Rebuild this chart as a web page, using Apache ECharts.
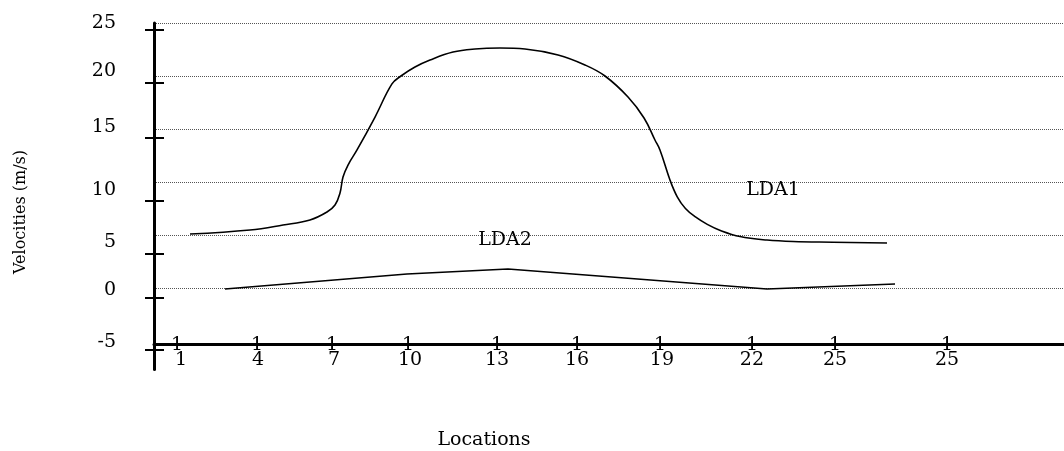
<!DOCTYPE html>
<html><head><meta charset="utf-8">
<script src="https://cdn.jsdelivr.net/npm/echarts@6/dist/echarts.min.js"></script>
<style>html,body{margin:0;padding:0;background:#fff}#c{width:1064px;height:451px}</style>
</head><body><div id="c"></div>
<script>
const FONT = 'DejaVu Serif';
// x positions are in axis units (0..100 across the plot width)
const xLabelPos = [2.97, 11.43, 19.78, 28.13, 37.69, 46.48, 55.82, 65.71, 74.84, 87.14];
const xLabelText = ['1', '4', '7', '10', '13', '16', '19', '22', '25', '25'];
const xMarkPos = [2.53, 11.32, 19.56, 27.91, 37.69, 46.48, 55.60, 65.71, 74.84, 87.14];
const yGridValues = [0, 5, 10, 15, 20, 25];
const yLabelPos = [25, 20.47, 15.19, 9.25, 4.34, -0.19, -5.09];
const yLabelText = ['25', '20', '15', '10', '5', '0', '-5'];
const yTickPos = [24.34, 19.34, 14.15, 8.21, 3.21, -0.94, -5.85];

const lda1X = [3.96, 10.55, 14.18, 17.14, 19.01, 19.89, 20.44, 20.77, 21.32, 22.31, 24.29, 26.15, 27.14, 28.68, 30.33, 32.86, 35.27, 38.02, 40.77, 44.40, 47.36, 49.56, 52.09, 53.85, 55.05, 55.60, 56.70, 57.50, 58.40, 59.50, 60.80, 62.30, 64.40, 67.36, 70.22, 74.62, 80.55];
const lda1Y = [5.09, 5.47, 5.94, 6.42, 7.17, 7.83, 8.96, 10.47, 11.60, 13.02, 16.13, 19.25, 20.0, 20.85, 21.51, 22.26, 22.55, 22.64, 22.55, 21.98, 21.04, 20.0, 18.02, 16.04, 13.96, 13.02, 10.19, 8.60, 7.50, 6.70, 6.00, 5.40, 4.85, 4.52, 4.38, 4.32, 4.25];
const lda2X = [7.80, 27.80, 38.90, 67.36, 81.43];
const lda2Y = [-0.09, 1.32, 1.79, -0.09, 0.38];
const seriesNames = ['LDA1', 'LDA2'];
const seriesLabelPos = [[68.02, 9.25], [38.57, 4.48]];

const zip = (xs, ys) => xs.map((x, i) => [x, ys[i]]);
const YMIN = -7.7, YMAX = 25;

const chart = echarts.init(document.getElementById('c'), null, {renderer: 'canvas'});
const txt = {fontFamily: FONT, fontSize: 19, color: '#000'};

const yBase = {type: 'value', min: YMIN, max: YMAX, position: 'left'};
const xBase = {type: 'value', min: 0, max: 100, position: 'bottom', offset: -25};

chart.setOption({
  animation: false,
  backgroundColor: '#fff',
  grid: {left: 154, right: 0, top: 23, bottom: 81.4, containLabel: false},
  xAxis: [
    Object.assign({}, xBase, {
      axisLine: {show: true, onZero: false, lineStyle: {color: '#000', width: 3}},
      axisTick: {show: false},
      splitLine: {show: false},
      axisLabel: Object.assign({show: true, customValues: xLabelPos, margin: 6,
        formatter: (v, i) => { const k = xLabelPos.indexOf(v); return xLabelText[k >= 0 ? k : i]; }}, txt)
    }),
    Object.assign({}, xBase, {
      axisLine: {show: false, onZero: false},
      axisTick: {show: false},
      splitLine: {show: false},
      axisLabel: Object.assign({show: true, customValues: xMarkPos, margin: -9,
        formatter: () => '1'}, txt)
    })
  ],
  yAxis: [
    Object.assign({}, yBase, {
      axisLine: {show: false, onZero: false},
      axisTick: {show: false, customValues: yGridValues},
      axisLabel: {show: false},
      splitLine: {show: true, lineStyle: {color: '#555', width: 1, type: [1, 1]}}
    }),
    Object.assign({}, yBase, {
      axisLine: {show: true, onZero: false, lineStyle: {color: '#000', width: 3}},
      axisTick: {show: true, customValues: yTickPos, length: 9, lineStyle: {color: '#000', width: 2}},
      splitLine: {show: false},
      axisLabel: Object.assign({show: true, customValues: yLabelPos, margin: 38,
        formatter: (v, i) => { const k = yLabelPos.indexOf(v); return yLabelText[k >= 0 ? k : i]; }}, txt)
    }),
    Object.assign({}, yBase, {
      axisLine: {show: false, onZero: false},
      axisTick: {show: true, inside: true, customValues: yTickPos, length: 10, lineStyle: {color: '#000', width: 2}},
      splitLine: {show: false},
      axisLabel: {show: false}
    })
  ],
  series: [
    {
      name: seriesNames[0], type: 'line', xAxisIndex: 0, yAxisIndex: 0,
      data: zip(lda1X, lda1Y), smooth: 0.4, showSymbol: false, symbol: 'none',
      lineStyle: {color: '#000', width: 1.6},
      markPoint: {symbol: 'circle', symbolSize: 1, itemStyle: {color: 'rgba(0,0,0,0)'},
        label: Object.assign({show: true, position: 'inside', formatter: seriesNames[0]}, txt),
        data: [{coord: seriesLabelPos[0]}]}
    },
    {
      name: seriesNames[1], type: 'line', xAxisIndex: 0, yAxisIndex: 0,
      data: zip(lda2X, lda2Y), smooth: false, showSymbol: false, symbol: 'none',
      lineStyle: {color: '#000', width: 1.6},
      markPoint: {symbol: 'circle', symbolSize: 1, itemStyle: {color: 'rgba(0,0,0,0)'},
        label: Object.assign({show: true, position: 'inside', formatter: seriesNames[1]}, txt),
        data: [{coord: seriesLabelPos[1]}]}
    }
  ],
  graphic: [
    {type: 'text', x: 484, y: 440, style: {text: 'Locations', fontFamily: FONT, fontSize: 19, fill: '#000', align: 'center', verticalAlign: 'middle'}},
    {type: 'text', x: 21, y: 212, rotation: Math.PI / 2, style: {text: 'Velocities (m/s)', fontFamily: FONT, fontSize: 16, fill: '#000', align: 'center', verticalAlign: 'middle'}}
  ]
});
</script></body></html>
